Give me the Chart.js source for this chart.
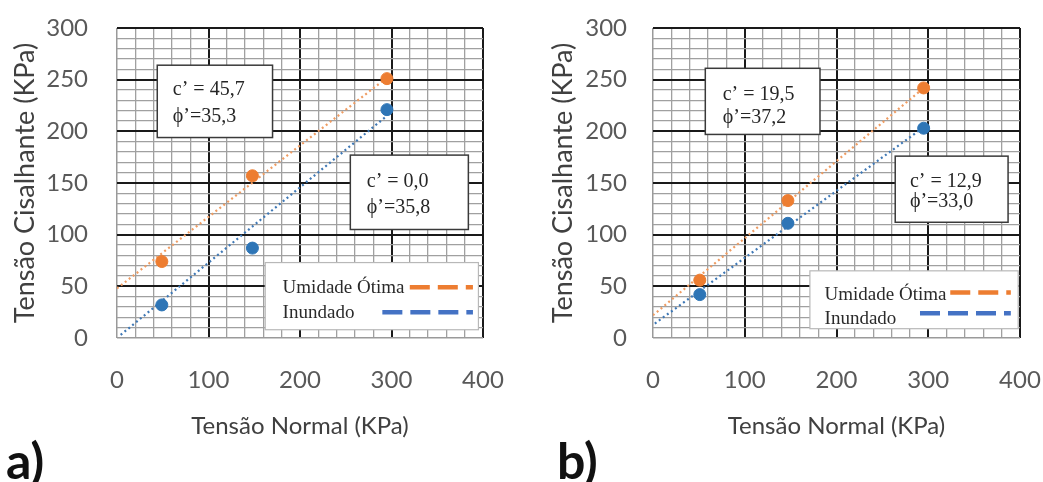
<!DOCTYPE html>
<html lang="pt">
<head>
<meta charset="UTF-8">
<title>Envoltórias de resistência</title>
<script src="https://cdn.jsdelivr.net/npm/chart.js"></script>
<style>
    body { margin: 0; background: #fff; }
    .wrap { position: relative; width: 1043px; height: 482px; overflow: hidden; }
    #chartA { position: absolute; left: 0; top: 0; }
    #chartB { position: absolute; left: 520px; top: 0; }
    .tag {
        position: absolute; top: 435px;
        font-family: Lato, sans-serif; font-weight: bold;
        font-size: 50px; line-height: 50px; color: #111;
    }
</style>
</head>
<body>
<div class="wrap">
    <canvas id="chartA" width="520" height="482"></canvas>
    <canvas id="chartB" width="523" height="482"></canvas>
    <div class="tag" style="left:6px">a)</div>
    <div class="tag" style="left:557px">b)</div>
</div>

<script>
    // valores (KPa)
    const sigmaA = [49, 148, 295];
    const otimaA = [74, 157, 251];
    const inundA = [32, 87, 221];

    const sigmaB = [51, 147, 295];
    const otimaB = [56, 133, 242];
    const inundB = [42, 111, 203];

    // linhas de tendência (pontos extremos)
    const trendA_otima = [[0, 48], [295, 252]];
    const trendA_inund = [[4, 3], [295, 215]];
    const trendB_otima = [[0, 22], [295, 242]];
    const trendB_inund = [[2, 14], [295, 204]];

    const xTicks = [0, 100, 200, 300, 400];
    const yTicks = [0, 50, 100, 150, 200, 250, 300];
    const seriesLabels = ['Umidade Ótima', 'Inundado'];

    const paramsA = [['c’ = 45,7', 'ϕ’=35,3'], ['c’ = 0,0', 'ϕ’=35,8']];
    const paramsB = [['c’ = 19,5', 'ϕ’=37,2'], ['c’ = 12,9', 'ϕ’=33,0']];

    const ORANGE = '#ED7D31', BLUE = '#2E75B6';
    const LEG_ORANGE = '#ED7D31', LEG_BLUE = '#4472C4';

    const toPts = (xs, ys) => xs.map((x, i) => ({x: x, y: ys[i]}));
    const toLine = (pair) => pair.map(p => ({x: p[0], y: p[1]}));

    // caixas de texto e legenda desenhadas dentro da área do gráfico
    const notesPlugin = {
        id: 'notes',
        afterDatasetsDraw(chart, args, opts) {
            const {ctx} = chart;
            const xs = chart.scales.x, ys = chart.scales.y;
            const X = v => xs.getPixelForValue(v), Y = v => ys.getPixelForValue(v);
            ctx.save();
            opts.boxes.forEach(b => {
                const l = X(b.x0), r = X(b.x1), t = Y(b.y0), btm = Y(b.y1);
                ctx.fillStyle = '#fff';
                ctx.fillRect(l, t, r - l, btm - t);
                ctx.strokeStyle = '#3a3a3a';
                ctx.lineWidth = 1.5;
                ctx.strokeRect(l, t, r - l, btm - t);
                ctx.fillStyle = '#262626';
                ctx.font = '20px "Liberation Serif", serif';
                ctx.textBaseline = 'middle';
                b.lines.forEach((s, i) => ctx.fillText(s, X(b.tx), Y(b.ty[i])));
            });
            const g = opts.legend;
            const l = X(g.x0), r = X(g.x1), t = Y(g.y0), btm = Y(g.y1);
            ctx.fillStyle = '#fff';
            ctx.fillRect(l, t, r - l, btm - t);
            ctx.strokeStyle = '#b8b8b8';
            ctx.lineWidth = 1.2;
            ctx.strokeRect(l, t, r - l, btm - t);
            ctx.font = '19px "Liberation Serif", serif';
            ctx.textBaseline = 'middle';
            seriesLabels.forEach((s, i) => {
                ctx.fillStyle = '#2a2a2a';
                ctx.fillText(s, X(g.tx), Y(g.rows[i]));
                const y = Y(g.lineRows[i]);
                ctx.strokeStyle = [LEG_ORANGE, LEG_BLUE][i];
                ctx.lineWidth = 4.5;
                ctx.setLineDash([20, 8]);
                ctx.beginPath();
                ctx.moveTo(X(g.lx0[i]), y);
                ctx.lineTo(X(g.lx1), y);
                ctx.stroke();
                ctx.setLineDash([]);
            });
            ctx.restore();
        }
    };

    function isMajor(c) {
        const v = c.tick.value;
        return c.scale.axis === 'x' ? xTicks.includes(v) : yTicks.includes(v);
    }
    function gridColor(c) {
        if (c.tick.value === 0) return '#9a9a9a';
        return isMajor(c) ? '#1a1a1a' : '#a0a0a0';
    }
    function gridWidth(c) {
        if (c.tick.value === 0) return 1.5;
        return isMajor(c) ? 2 : 1.3;
    }

    function makeChart(id, sig, ot, inu, trO, trI, cfg) {
        return new Chart(document.getElementById(id), {
            type: 'scatter',
            data: {
                datasets: [
                    {label: seriesLabels[0], data: toPts(sig, ot), backgroundColor: ORANGE, borderColor: ORANGE, pointRadius: 6},
                    {label: seriesLabels[1], data: toPts(sig, inu), backgroundColor: BLUE, borderColor: BLUE, pointRadius: 6},
                    {label: 'tend1', data: toLine(trO), showLine: true, pointRadius: 0, borderColor: '#EF9C62', borderWidth: 2.2, borderDash: [2, 3]},
                    {label: 'tend2', data: toLine(trI), showLine: true, pointRadius: 0, borderColor: '#3F78B5', borderWidth: 2.2, borderDash: [2, 3]}
                ]
            },
            options: {
                responsive: false,
                animation: false,
                layout: {padding: {left: cfg.padLeft, right: cfg.padRight, top: 28, bottom: 0}},
                plugins: {
                    legend: {display: false},
                    tooltip: {enabled: false},
                    notes: cfg.notes
                },
                scales: {
                    x: {
                        type: 'linear', min: 0, max: 400,
                        afterFit: s => { s.height = 144; s.paddingLeft = 0; s.paddingRight = 0; },
                        border: {display: false},
                        grid: {color: gridColor, lineWidth: gridWidth, drawTicks: false},
                        ticks: {
                            stepSize: 20, autoSkip: false, maxRotation: 0, minRotation: 0, padding: 28,
                            color: '#595959', font: {family: 'Lato', size: 24},
                            callback: v => xTicks.includes(v) ? v : ''
                        },
                        title: {
                            display: true, text: 'Tensão Normal (KPa)', color: '#404040',
                            font: {family: 'Lato', size: 24}, padding: {top: 0, bottom: 41}
                        }
                    },
                    y: {
                        min: 0, max: 300,
                        afterFit: s => { s.width = cfg.yWidth; s.paddingTop = 0; s.paddingBottom = 0; },
                        border: {display: false},
                        grid: {color: gridColor, lineWidth: gridWidth, drawTicks: false},
                        ticks: {
                            stepSize: 10, autoSkip: false, padding: cfg.tickPad,
                            color: '#595959', font: {family: 'Lato', size: 24},
                            callback: v => yTicks.includes(v) ? v : ''
                        },
                        title: {
                            display: true, text: 'Tensão Cisalhante (KPa)', color: '#404040',
                            font: {family: 'Lato', size: 27}, padding: {top: 9, bottom: 0}
                        }
                    }
                }
            },
            plugins: [notesPlugin]
        });
    }

    makeChart('chartA', sigmaA, otimaA, inundA, trendA_otima, trendA_inund, {
        padLeft: 0, padRight: 37, yWidth: 117, tickPad: 29,
        notes: {
            boxes: [
                {x0: 44, x1: 170, y0: 264, y1: 194, tx: 61, ty: [240, 214], lines: paramsA[0]},
                {x0: 255, x1: 384, y0: 177, y1: 105, tx: 273, ty: [151, 126], lines: paramsA[1]}
            ],
            legend: {x0: 162, x1: 395, y0: 73, y1: 8, tx: 181, rows: [48, 24], lineRows: [49, 25], lx0: [320, 290], lx1: 389}
        }
    });

    makeChart('chartB', sigmaB, otimaB, inundB, trendB_otima, trendB_inund, {
        padLeft: 18, padRight: 23, yWidth: 115, tickPad: 26,
        notes: {
            boxes: [
                {x0: 57, x1: 182, y0: 261, y1: 197, tx: 76, ty: [235, 213], lines: paramsB[0]},
                {x0: 264, x1: 387, y0: 176, y1: 112, tx: 280, ty: [151, 132], lines: paramsB[1]}
            ],
            legend: {x0: 171, x1: 398, y0: 65, y1: 9, tx: 187, rows: [42, 18], lineRows: [44, 24], lx0: [324, 291], lx1: 390}
        }
    });
</script>
</body>
</html>
